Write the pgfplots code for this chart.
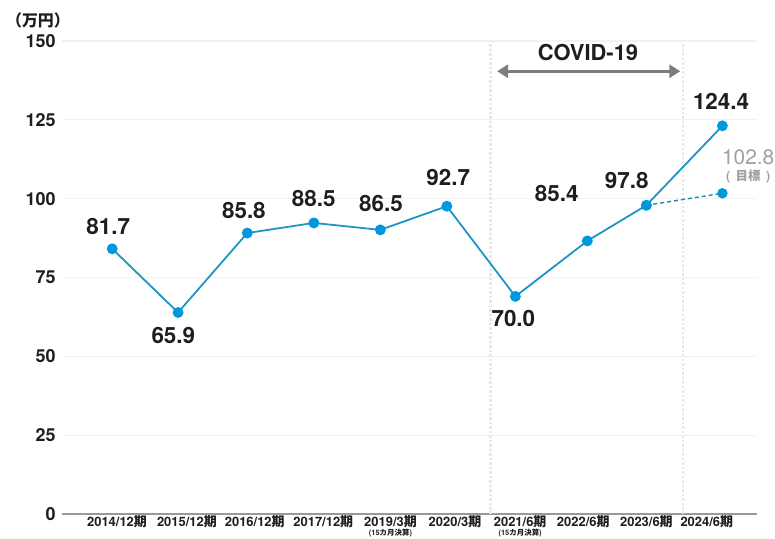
\documentclass[border=0pt]{standalone}
\usepackage{fontspec}
\setmainfont{TeX Gyre Heros}
\newfontfamily\jp{Noto Sans CJK JP}
\usepackage{pgfplots}
\pgfplotsset{compat=1.18}
\usetikzlibrary{arrows.meta}
\definecolor{linec}{RGB}{28,150,196}
\definecolor{markc}{RGB}{0,152,220}
\definecolor{dashc}{RGB}{30,140,160}
\definecolor{lblc}{RGB}{30,30,30}
\definecolor{tgtc}{RGB}{160,160,160}
\definecolor{arrc}{RGB}{125,125,125}
\newcommand\ki{{\jp\bfseries 期}}
\newcommand\sub[1]{\\[-4.5bp]{\fontsize{7.5}{7.5}\selectfont\bfseries(15{\jp\bfseries カ月決算})}}
\pgfplotstableread{
x y
0.00 84.1
0.97 63.9
1.99 89.1
2.97 92.3
3.95 90.1
4.93 97.6
5.94 69.0
7.00 86.6
7.87 97.9
8.99 123.1
}\actual
\pgfplotstableread{
x y
7.87 97.9
8.99 101.7
}\target
\begin{document}
\begin{tikzpicture}[x=1bp,y=1bp]
\useasboundingbox (0,0) rectangle (775,539);
\begin{axis}[
  at={(62bp,25bp)}, anchor=south west,
  scale only axis, width=695bp, height=473bp,
  xmin=-0.74, xmax=9.5, ymin=0, ymax=150,
  clip=false,
  axis x line*=bottom, axis y line*=left,
  y axis line style={draw=none},
  x axis line style={draw=gray!80, line width=1.8bp, -},
  major tick length=0,
  ytick={0,25,50,75,100,125,150},
  yticklabels={0,25,50,75,100,125,150},
  yticklabel style={font=\fontsize{18}{18}\selectfont\bfseries, text=lblc, xshift=-3bp},
  xtick={0.07,1.10,2.10,3.11,4.10,5.05,6.01,6.94,7.87,8.76},
  xticklabels={
    2014/12\ki, 2015/12\ki, 2016/12\ki, 2017/12\ki,
    {2019/3\ki\sub{}},
    2020/3\ki,
    {2021/6\ki\sub{}},
    2022/6\ki, 2023/6\ki, 2024/6\ki},
  xticklabel style={font=\fontsize{13}{14}\selectfont\bfseries, text=lblc, align=center, anchor=north, inner sep=1.5bp, yshift=0.5bp},
  ymajorgrids,
  grid style={draw=gray!10, line width=1.2bp},
]
% COVID period dotted lines
\draw[gray!18, dotted, line width=2.5bp] (axis cs:5.57,0) -- (axis cs:5.57,150);
\draw[gray!18, dotted, line width=2.5bp] (axis cs:8.41,0) -- (axis cs:8.41,150);
\draw[arrc, line width=3.5bp, {Triangle[length=11bp,width=13bp]}-{Triangle[length=11bp,width=13bp]}]
  (axis cs:5.67,140.4) -- (axis cs:8.37,140.4);
\node[font=\fontsize{22}{22}\selectfont\bfseries, text=lblc] at (axis cs:7.01,146.4) {COVID-19};

\addplot[dashc, dashed, line width=1.4bp, dash pattern=on 4bp off 3bp, mark=*, mark size=4.5bp,
  mark options={solid, fill=markc, draw=markc}] table[x=x,y=y] {\target};
\addplot[linec, line width=1.8bp, mark=*, mark size=4.5bp,
  mark options={fill=markc, draw=markc}] table[x=x,y=y] {\actual};

\begin{scope}[every node/.style={font=\fontsize{22.5}{22.5}\selectfont\bfseries, text=lblc}]
\node at (axis cs:-0.06,91.3) {81.7};
\node at (axis cs:0.90,56.7) {65.9};
\node at (axis cs:1.94,96.3) {85.8};
\node at (axis cs:2.97,100.1) {88.5};
\node at (axis cs:3.96,98.6) {86.5};
\node at (axis cs:4.95,106.7) {92.7};
\node at (axis cs:5.91,62.0) {70.0};
\node at (axis cs:6.55,101.7) {85.4};
\node at (axis cs:7.58,105.8) {97.8};
\node at (axis cs:8.97,130.7) {124.4};
\end{scope}
\node[font=\fontsize{21}{21}\selectfont, text=tgtc] at (axis cs:9.37,113.0) {102.8};
\node[font=\fontsize{12.5}{12.5}\selectfont\bfseries, text=tgtc] at (axis cs:9.37,107.1) {(\;\,{\jp\bfseries 目標}\;\,)};
\end{axis}
\node[font=\fontsize{16}{16}\selectfont\bfseries, text=lblc] at (38,519) {{\jp\bfseries （万円）}};
\end{tikzpicture}
\end{document}
